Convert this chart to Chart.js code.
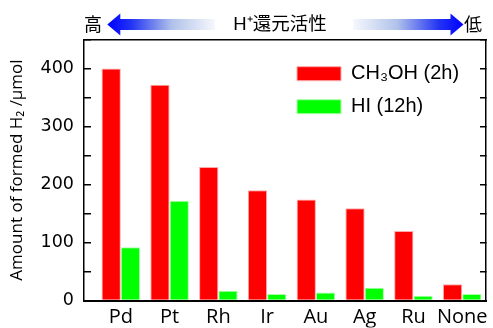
<!DOCTYPE html>
<html>
<head>
<meta charset="utf-8">
<script src="https://cdn.jsdelivr.net/npm/chart.js@4/dist/chart.umd.min.js"></script>
<style>
  html, body { margin: 0; padding: 0; background: #fff; }
  #wrap { width: 493px; height: 328px; position: relative; }
</style>
</head>
<body>
<div id="wrap"><canvas id="c"></canvas></div>
<script>
// Catalysts, ordered from high to low H+ reduction activity
const catalysts = ['Pd', 'Pt', 'Rh', 'Ir', 'Au', 'Ag', 'Ru', 'None'];
// H2 formed (µmol)
const methanol2h = [400, 372, 230, 190, 174, 159, 120, 28];
const hi12h = [92, 172, 17, 11, 14, 22, 8, 11];
const seriesNames = ['CH\u2083OH (2h)', 'HI (12h)'];
const yTickValues = [0, 100, 200, 300, 400];

// Gradient arrows and labels over the plot frame
const activityHeader = {
  id: 'activityHeader',
  afterDraw(chart) {
    const { ctx, chartArea: a } = chart;
    const cy = a.top - 15;
    ctx.save();
    ctx.fillStyle = '#000';
    ctx.textAlign = 'center';
    ctx.textBaseline = 'middle';
    ctx.font = '18px "Noto Sans CJK JP"';
    ctx.fillText('高', a.left + 9, cy);
    ctx.fillText('低', a.right - 13, cy);
    ctx.font = '18.5px "Liberation Sans", "Noto Sans CJK JP"';
    ctx.fillText('H\u207A還元活性', (a.left + a.right) / 2 - 5, cy + 0.5);

    const arrow = (tip, tail) => {
      const dir = Math.sign(tail - tip);
      const headLen = 13, headHalf = 11, shaftHalf = 5.5;
      const g = ctx.createLinearGradient(tip, 0, tail, 0);
      g.addColorStop(0, '#0000ff');
      g.addColorStop(0.22, '#2233f4');
      g.addColorStop(0.6, '#b0c2ea');
      g.addColorStop(1, '#f6f8fc');
      ctx.fillStyle = g;
      ctx.beginPath();
      ctx.moveTo(tip, cy);
      ctx.lineTo(tip + dir * headLen, cy - headHalf);
      ctx.lineTo(tip + dir * headLen, cy - shaftHalf);
      ctx.lineTo(tail, cy - shaftHalf);
      ctx.lineTo(tail, cy + shaftHalf);
      ctx.lineTo(tip + dir * headLen, cy + shaftHalf);
      ctx.lineTo(tip + dir * headLen, cy + headHalf);
      ctx.closePath();
      ctx.fill();
    };
    arrow(a.left + 23.3, a.left + 131);
    arrow(a.right - 22.5, a.right - 133);
    ctx.restore();
  }
};

// Keep the legend in the upper right of the plot frame
const legendPlacement = {
  id: 'legendPlacement',
  beforeDraw(chart) {
    const lg = chart.legend, a = chart.chartArea;
    if (!lg) return;
    lg.left = a.left + 200;
    lg.top = a.top + 11.2;
  }
};

const xMin = -0.755, xMax = 7.488;

new Chart(document.getElementById('c'), {
  type: 'bar',
  data: {
    datasets: [
      {
        label: seriesNames[0],
        data: catalysts.map((c, i) => ({ x: i, y: methanol2h[i] })),
        backgroundColor: '#ff0000',
        borderColor: '#ffa8a8',
        borderWidth: 1,
        xAxisID: 'x', yAxisID: 'y'
      },
      {
        label: seriesNames[1],
        data: catalysts.map((c, i) => ({ x: i, y: hi12h[i] })),
        backgroundColor: '#00ff00',
        borderColor: '#a8ffa8',
        borderWidth: 1,
        xAxisID: 'x', yAxisID: 'y'
      }
    ]
  },
  options: {
    responsive: true,
    maintainAspectRatio: false,
    animation: false,
    categoryPercentage: 0.79,
    barPercentage: 1.0,
    layout: { padding: { top: 39.5, left: 0, right: 0, bottom: 0 } },
    plugins: {
      tooltip: { enabled: false },
      legend: {
        position: 'chartArea',
        align: 'start',
        labels: {
          boxWidth: 44,
          boxHeight: 14,
          padding: 13,
          color: '#000',
          font: { family: '"Liberation Sans", Arial, sans-serif', size: 20 }
        }
      }
    },
    scales: {
      x: {
        type: 'linear',
        position: 'bottom',
        offset: false,
        min: xMin, max: xMax,
        afterBuildTicks: s => { s.ticks = catalysts.map((c, i) => ({ value: i })); },
        afterFit: s => { s.height = 27; },
        border: { display: true, color: '#000', width: 2 },
        grid: { display: false, drawTicks: false, offset: false },
        ticks: {
          autoSkip: false, maxRotation: 0, padding: 5, color: '#000',
          font: { family: '"Open Sans", sans-serif', size: 20 },
          callback: v => catalysts[v] ?? ''
        }
      },
      x2: {
        type: 'linear',
        position: 'top',
        offset: false,
        min: xMin, max: xMax,
        afterFit: s => { s.height = 0; },
        border: { display: true, color: '#000', width: 1.5 },
        grid: { display: false, drawTicks: false, offset: false },
        ticks: { display: false }
      },
      y: {
        type: 'linear',
        position: 'left',
        min: 0, max: 450,
        afterFit: s => { s.width = 84; },
        border: { display: true, color: '#000', width: 1.5 },
        grid: { drawOnChartArea: false, drawTicks: true, tickLength: -7, color: '#000', lineWidth: 1.5 },
        ticks: {
          stepSize: 50, autoSkip: false, padding: 17, color: '#000',
          font: { family: '"DejaVu Sans", sans-serif', size: 17.5 },
          callback: v => yTickValues.includes(v) ? String(v) : ''
        },
        title: {
          display: true,
          text: 'Amount of formed H\u2082 /\u03BCmol',
          color: '#000',
          font: { family: '"Open Sans", sans-serif', size: 17 },
          padding: { top: 7, bottom: 0 }
        }
      },
      y2: {
        type: 'linear',
        position: 'right',
        min: 0, max: 450,
        afterFit: s => { s.width = 7; },
        border: { display: true, color: '#000', width: 1.5 },
        grid: { drawOnChartArea: false, drawTicks: true, tickLength: -6, color: '#000', lineWidth: 1.5 },
        ticks: { stepSize: 50, display: false }
      }
    }
  },
  plugins: [legendPlacement, activityHeader]
});
</script>
</body>
</html>
